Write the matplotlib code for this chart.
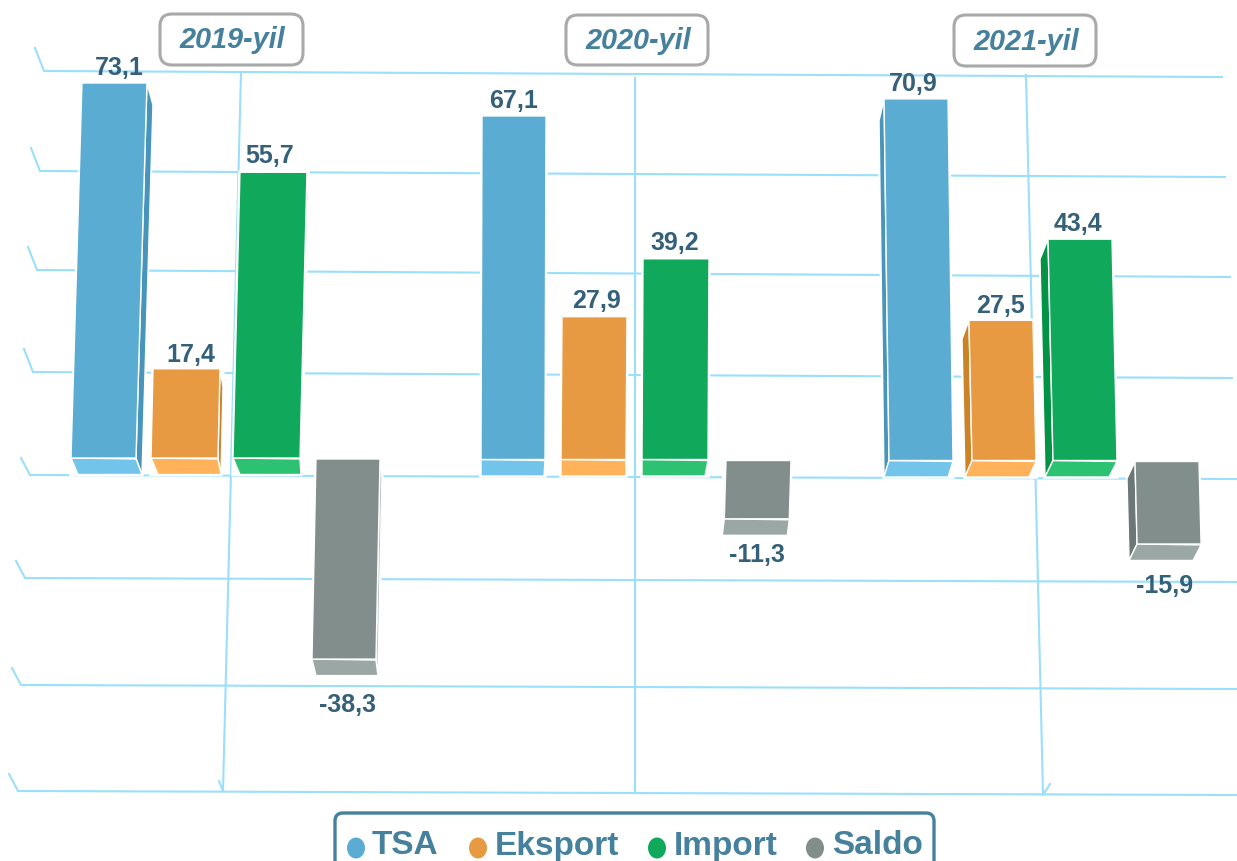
#!/usr/bin/env python3
"""Yearly trade bars (TSA, Eksport, Import, Saldo) drawn as boxes in perspective."""
import numpy as np
import matplotlib
matplotlib.use("Agg")
import matplotlib.pyplot as plt
from matplotlib.patches import Polygon, FancyBboxPatch, Ellipse

plt.rcParams["font.family"] = ["Liberation Sans", "DejaVu Sans"]

# data
YEARS = ["2019-yil", "2020-yil", "2021-yil"]
SERIES = ["TSA", "Eksport", "Import", "Saldo"]
TSA = [73.1, 67.1, 70.9]
EKSPORT = [17.4, 27.9, 27.5]
IMPORT = [55.7, 39.2, 43.4]
SALDO = [-38.3, -11.3, -15.9]
GRID_TICKS = [80, 60, 40, 20, 0, -20, -40, -60]

# colours: front, side, underside
COLORS = [("#5BACD3", "#4795BA", "#72C4EA"),
          ("#E89A42", "#CC8227", "#FFB259"),
          ("#10A85A", "#039344", "#2CC272"),
          ("#818E8C", "#6B7876", "#9AA7A5")]
GRID = "#9ADFFC"
LABEL = "#35607A"
TITLE = "#45809C"

# layout in pixels, per year then per series:
# x at zero, width, lean per unit, back-left shift, back-right shift, label dx, label dy
LAYOUT = [
    [(71, 65, .150, 7, 6, 5, -15), (151, 67, .115, 7, 3, 4, -14),
     (233, 67, .125, 7, 1, -4, -16), (316, 64, .105, 4, 2, 4, 46)],
    [(481, 64, .015, 0, -1, 0, -15), (561, 65, .036, 0, 0, 2, -16),
     (642, 66, .026, 0, -3, -1, -16), (726, 65, .15, -2, -2, 0, 36)],
    [(889, 64, -.07, -5, -5, -3, -15), (972, 64, -.11, -7, -7, 0, -14),
     (1053, 64, -.115, -8, -8, -2, -15), (1135, 64, -.13, -8, -8, -5, 42)],
]
BASE_Y = [458, 459.5, 460.5]
FRONT_POS = [5.13, 5.12, 5.10]
FRONT_NEG = 5.25

# gridline calibration: value -> pixel at the left and right ends
GRID_Y_L = [71, 171, 270, 372, 475, 578, 685, 791]
GRID_Y_R = [77, 177, 277, 378, 479, 582, 689, 795]
GRID_X_L = [44, 40, 37, 33, 30, 25, 21, 18]
GRID_X_R = [1222, 1225, 1230, 1232, 1237, 1237, 1237, 1237]
V_LINES = [((241, 72), (223, 791), (219, 781)),
           ((635, 78), (635, 793), (635, 781)),
           ((1026, 75), (1043, 795), (1050, 784))]
TITLE_BOX = [(160, 14, 143, 51), (566, 15, 142, 50), (954, 15, 142, 51)]


def front_y(v, base, pos_scale):
    return base - (pos_scale if v >= 0 else FRONT_NEG) * v


def draw_bar(ax, v, base, pos_scale, geom, cols, side_light=False):
    x0, w, lean, dl, dr, ldx, ldy = geom
    y_end = front_y(v, base, pos_scale)
    # for negative bars the front face hangs from zero, the box still leans
    xl_end = x0 + lean * v
    if v >= 0:
        bottom_y, top_y = base, y_end
        xl_b, xl_t = x0, xl_end
    else:
        bottom_y, top_y = y_end, base + 1
        xl_b, xl_t = xl_end, x0
    xr_b, xr_t = xl_b + w, xl_t + w
    dy_b = 16.5
    dy_t = 17 + 0.07 * max(v, 0)
    edge = dict(edgecolor="white", linewidth=1.0, joinstyle="round")
    halo = dict(facecolor="white", edgecolor="white", linewidth=2.5, zorder=3)
    outline = [(min(xl_t, xl_t + dl), top_y), (xr_t + max(dr, 0), top_y),
               (xr_b + max(dr, 0), bottom_y + dy_b), (xl_b + min(dl, 0), bottom_y + dy_b)]
    ax.add_patch(Polygon(outline, **halo))
    side_col = cols[1]
    if side_light:
        side_col = "#BAC3C1"
    if dr > 0:
        ax.add_patch(Polygon([(xr_t, top_y), (xr_t + dr, top_y + dy_t),
                              (xr_b + dr, bottom_y + dy_b), (xr_b, bottom_y)],
                             facecolor=side_col, zorder=4, **edge))
    if dl < 0:
        ax.add_patch(Polygon([(xl_t, top_y), (xl_t + dl, top_y + dy_t),
                              (xl_b + dl, bottom_y + dy_b), (xl_b, bottom_y)],
                             facecolor=side_col, zorder=4, **edge))
    ax.add_patch(Polygon([(xl_b, bottom_y), (xr_b, bottom_y + 1),
                          (xr_b + dr, bottom_y + dy_b), (xl_b + dl, bottom_y + dy_b)],
                         facecolor=cols[2], zorder=4, **edge))
    ax.add_patch(Polygon([(xl_t, top_y), (xr_t, top_y),
                          (xr_b, bottom_y), (xl_b, bottom_y)],
                         facecolor=cols[0], zorder=5, **edge))
    ref_x = (xl_t + xr_t) / 2 if v >= 0 else (xl_b + xr_b) / 2
    ax.text(ref_x + ldx, y_end + ldy, f"{v:.1f}".replace(".", ","),
            ha="center", va="center", fontsize=18, fontweight="bold",
            color=LABEL, zorder=7)


def main():
    fig = plt.figure(figsize=(12.37, 8.61), dpi=100)
    ax = fig.add_axes([0, 0, 1, 1])
    ax.set_xlim(0, 1237)
    ax.set_ylim(861, 0)
    ax.axis("off")

    # wall grid
    for xl, yl, xr, yr in zip(GRID_X_L, GRID_Y_L, GRID_X_R, GRID_Y_R):
        ax.plot([xl - 9, xl, xr], [yl - 23 if yl < 450 else yl - 17, yl, yr],
                color=GRID, lw=1.5, zorder=1, solid_joinstyle="miter")
    for top, bottom, stub in V_LINES:
        ax.plot([top[0], bottom[0], stub[0]], [top[1], bottom[1], stub[1]],
                color=GRID, lw=1.5, zorder=1)

    # bars
    table = np.array([TSA, EKSPORT, IMPORT, SALDO])
    for g in range(len(YEARS)):
        for s in range(len(SERIES)):
            draw_bar(ax, table[s, g], BASE_Y[g], FRONT_POS[g], LAYOUT[g][s],
                     COLORS[s], side_light=(s == 3 and g < 2))

    # year captions
    for year, (x, y, w, h) in zip(YEARS, TITLE_BOX):
        ax.add_patch(FancyBboxPatch((x + 12, y + 12), w - 24, h - 24,
                                    boxstyle="round,pad=12,rounding_size=12",
                                    facecolor="white", edgecolor="#A9A9A9",
                                    linewidth=2.2, zorder=8))
        ax.text(x + w / 2 + 1, y + h / 2 + 1, year, ha="center", va="center",
                fontsize=20.8, fontweight="bold", fontstyle="italic",
                color=TITLE, zorder=9)

    # legend box runs off the bottom edge
    ax.add_patch(FancyBboxPatch((345, 823), 579, 80,
                                boxstyle="round,pad=10,rounding_size=8",
                                facecolor="white", edgecolor=TITLE,
                                linewidth=2.4, zorder=8))
    for name, cols, mx, tx in zip(SERIES, COLORS, [356, 478, 657, 815],
                                  [372, 495, 674, 832]):
        ax.add_patch(Ellipse((mx, 848), 18, 21, facecolor=cols[0],
                             edgecolor="none", zorder=9))
        ax.text(tx, 846, name, ha="left", va="center", fontsize=24,
                fontweight="bold", color=TITLE, zorder=9)

    fig.savefig("out.png", dpi=100)
    plt.close(fig)


if __name__ == "__main__":
    main()
